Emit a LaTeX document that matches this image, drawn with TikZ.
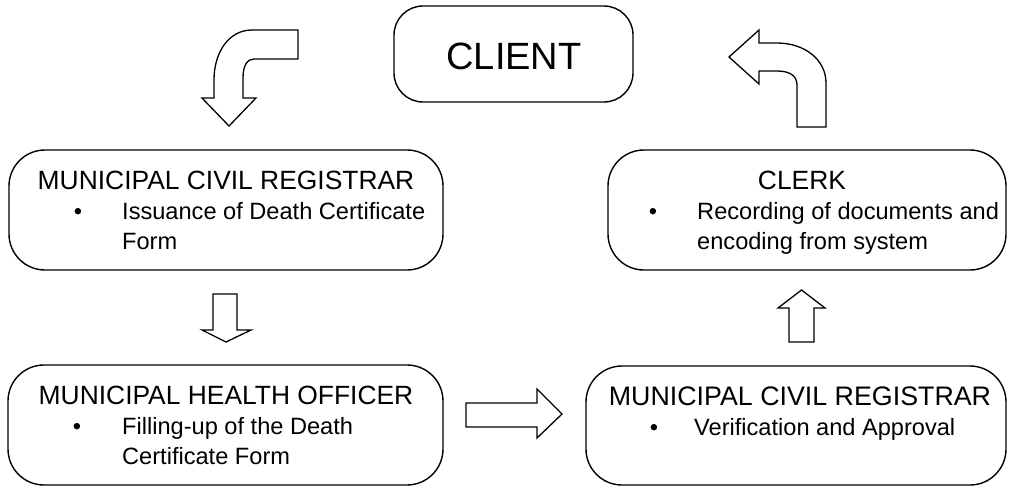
\documentclass[tikz,border=0pt]{standalone}
\usepackage{fontspec}
\setmainfont{Liberation Sans}
\begin{document}
\begin{tikzpicture}[x=1pt,y=-1pt,
  box/.style={draw=black, line width=1.4pt, rounded corners=36pt, inner sep=0pt, outer sep=0pt},
  clientbox/.style={draw=black, line width=1.4pt, rounded corners=29pt, inner sep=0pt, outer sep=0pt},
  title/.style={font=\fontsize{26.4}{30}\selectfont, inner sep=0pt, anchor=base},
  body/.style={font=\fontsize{23.6}{27}\selectfont, inner sep=0pt, anchor=base west},
  bul/.style={font=\fontsize{23.6}{27}\selectfont, inner sep=0pt, anchor=base},
  blockarrow/.style={draw=black, line width=1.3pt, line join=miter, fill=white}]
\useasboundingbox (0,0) rectangle (1011,487);

% boxes
\node[clientbox, minimum width=239pt, minimum height=96pt] (client) at (513.5,54) {};
\node[font=\fontsize{38}{44}\selectfont, inner sep=0pt] (clientt) at (514,56) {CLIENT};

\node[box, minimum width=434pt, minimum height=120pt] (mcr1) at (226,210) {};
\node[title] (mcr1t) at (226,189.5) {MUNICIPAL CIVIL REGISTRAR};
\node[bul] (mcr1b) at (78,219.5) {•};
\node[body] (mcr1l1) at (122,219.5) {Issuance of Death Certificate};
\node[body] (mcr1l2) at (122,249.5) {Form};

\node[box, minimum width=398pt, minimum height=120pt] (clerk) at (807,210) {};
\node[title] (clerkt) at (802,189.5) {CLERK};
\node[bul] (clerkb) at (653,219.5) {•};
\node[body] (clerkl1) at (697,219.5) {Recording of documents and};
\node[body] (clerkl2) at (697,249.5) {encoding from system};

\node[box, minimum width=435pt, minimum height=120pt] (mho) at (225.5,425) {};
\node[title] (mhot) at (226,404.5) {MUNICIPAL HEALTH OFFICER};
\node[bul] (mhob) at (77,434.5) {•};
\node[body] (mhol1) at (122,434.5) {Filling-up of the Death};
\node[body] (mhol2) at (122,464.5) {Certificate Form};

\node[box, minimum width=420pt, minimum height=119pt] (mcr2) at (796,425.5) {};
\node[title, font=\fontsize{26.8}{30}\selectfont] (mcr2t) at (800,405.5) {MUNICIPAL CIVIL REGISTRAR};
\node[bul] (mcr2b) at (654,435.5) {•};
\node[body] (mcr2l1) at (694,435.5) {Verification and Approval};

% block arrows
% client -> mcr1 (bent, down)
\draw[blockarrow] (298,30) -- (252,30)
  .. controls (229,30) and (214,52) .. (214,80) -- (214,98) -- (202,98) -- (229,126)
  -- (256,98) -- (243,98) -- (243,78)
  .. controls (243,66) and (247,59) .. (254,59) -- (298,59) -- cycle;
% mcr1 -> mho
\draw[blockarrow] (213,294) -- (237,294) -- (237,330) -- (251,330) -- (226,342)
  -- (202,330) -- (213,330) -- cycle;
% mho -> mcr2
\draw[blockarrow] (466,403) -- (537,403) -- (537,389) -- (562,414) -- (537,438)
  -- (537,427) -- (466,427) -- cycle;
% mcr2 -> clerk
\draw[blockarrow] (789,342) -- (814,342) -- (814,308) -- (825,308) -- (801.5,290)
  -- (778,308) -- (789,308) -- cycle;
% clerk -> client (bent, left)
\draw[blockarrow] (826,127) -- (797,127) -- (797,85)
  .. controls (797,76) and (790,71) .. (777,71) -- (759,71) -- (759,84) -- (729,57)
  -- (759,30) -- (759,43) -- (777,43)
  .. controls (805,43) and (826,60) .. (826,83) -- cycle;
\end{tikzpicture}
\end{document}
